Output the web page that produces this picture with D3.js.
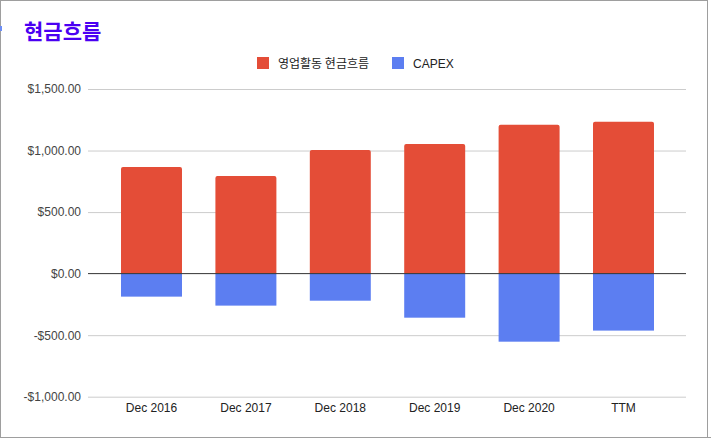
<!DOCTYPE html>
<html>
<head>
<meta charset="utf-8">
<script src="https://cdn.jsdelivr.net/npm/d3@7"></script>
<style>
  body { margin: 0; background: #fff; }
  svg { display: block; }
</style>
</head>
<body>
<svg id="chart_root" width="711" height="442"></svg>
<script>
// chart data
var categories = ["Dec 2016", "Dec 2017", "Dec 2018", "Dec 2019", "Dec 2020", "TTM"];
var operating_cash = [867, 794, 1004, 1054, 1209, 1233];
var capex = [-187, -260, -220, -358, -553, -463];
var series_names = ["영업활동 현금흐름", "CAPEX"];
var series_colours = ["#e44d37", "#5c7ef1"];
var y_ticks = [-1000, -500, 0, 500, 1000, 1500];

var total_width = 711, total_height = 442;
var plot_left = 88, plot_right = 686;
var latin_font = "'Liberation Sans', Arial, sans-serif";
var korean_font = "'Noto Sans CJK KR', 'Liberation Sans', sans-serif";

var svg = d3.select("#chart_root");

// frame round the chart
svg.append("rect")
.attr("x", 0.5).attr("y", 0.5)
.attr("width", 707).attr("height", 437)
.attr("fill", "none")
.attr("stroke", "#9e9e9e");
svg.append("line")
.attr("x1", 0).attr("x2", total_width)
.attr("y1", 437.5).attr("y2", 437.5)
.attr("stroke", "#9e9e9e");
svg.append("rect")
.attr("x", 0).attr("y", 26).attr("width", 2).attr("height", 5)
.attr("fill", "#6d8ef5");

// title
svg.append("text")
.attr("x", 24).attr("y", 39)
.attr("font-family", korean_font)
.attr("font-size", 21)
.attr("font-weight", "bold")
.attr("fill", "#4a00f2")
.text("현금흐름");

// scales
var y = d3.scaleLinear()
.domain([-1000, 1500])
.range([396.7, 89]);

var x = d3.scaleBand()
.domain(categories)
.range([104.3, 670.7])
.paddingInner(0.354)
.paddingOuter(0.177);

// gridlines and y labels
var y_axis = svg.append("g")
.attr("class", "y-axis")
.attr("transform", "translate(" + plot_left + ",0)")
.call(d3.axisLeft(y)
    .tickValues(y_ticks)
    .tickSize(-(plot_right - plot_left))
    .tickPadding(7)
    .tickFormat(function(d)
    {
        var s = "$" + d3.format(",.2f")(Math.abs(d));
        return d < 0 ? "-" + s : s;
    }));
y_axis.select(".domain").remove();
y_axis.selectAll(".tick line")
.attr("stroke", function(d) { return d === 0 ? "none" : "#cccccc"; });
y_axis.selectAll(".tick text")
.attr("fill", "#444")
.attr("font-family", latin_font)
.attr("font-size", 12);

// x labels
var x_axis = svg.append("g")
.attr("class", "x-axis")
.attr("transform", "translate(0,397)")
.call(d3.axisBottom(x).tickSize(0).tickPadding(6));
x_axis.select(".domain").remove();
x_axis.selectAll(".tick text")
.attr("fill", "#222")
.attr("font-family", latin_font)
.attr("font-size", 12);

// rounded-top bar path
function bar_path(x0, w, yTop, yBase, r)
{
    return "M" + x0 + "," + yBase +
        "V" + (yTop + r) +
        "Q" + x0 + "," + yTop + " " + (x0 + r) + "," + yTop +
        "H" + (x0 + w - r) +
        "Q" + (x0 + w) + "," + yTop + " " + (x0 + w) + "," + (yTop + r) +
        "V" + yBase + "Z";
}

var bars = svg.append("g");

bars.selectAll("path.op")
.data(categories)
.enter().append("path")
.attr("class", "op")
.attr("fill", series_colours[0])
.attr("d", function(d, i)
{
    return bar_path(x(d), x.bandwidth(), y(operating_cash[i]), y(0), 2);
});

bars.selectAll("rect.capex")
.data(categories)
.enter().append("rect")
.attr("class", "capex")
.attr("fill", series_colours[1])
.attr("x", function(d) { return x(d); })
.attr("width", x.bandwidth())
.attr("y", y(0))
.attr("height", function(d, i) { return y(capex[i]) - y(0); });

// baseline at zero
svg.append("line")
.attr("x1", plot_left).attr("x2", plot_right)
.attr("y1", y(0)).attr("y2", y(0))
.attr("stroke", "#333")
.attr("stroke-width", 1);

// legend
var legend_x = [257, 392];
var legend = svg.append("g");
series_names.forEach(function(name, i)
{
    legend.append("rect")
    .attr("x", legend_x[i]).attr("y", 57)
    .attr("width", 12).attr("height", 12)
    .attr("fill", series_colours[i]);
    legend.append("text")
    .attr("x", legend_x[i] + 21).attr("y", 67.5)
    .attr("font-family", i === 0 ? korean_font : latin_font)
    .attr("font-size", 12)
    .attr("fill", "#222")
    .text(name);
});
</script>
</body>
</html>
